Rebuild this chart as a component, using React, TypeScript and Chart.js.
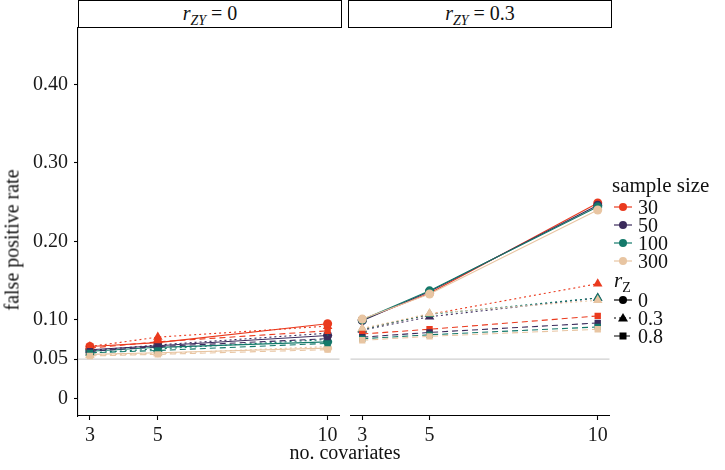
import { useEffect, useRef } from "react";
import { Chart, registerables } from "chart.js";

Chart.register(...registerables);

const covariates = [3, 5, 10];
const sampleSizes = ["30", "50", "100", "300"];
const rzLevels = ["0", "0.3", "0.8"];
const yTicks = [0, 0.05, 0.1, 0.2, 0.3, 0.4];
const refLine = 0.05;

// false positive rate, rows = sample size (30, 50, 100, 300), cols = covariates
const zy0_rz0 = [
  [0.066, 0.071, 0.095],
  [0.062, 0.067, 0.08],
  [0.06, 0.065, 0.072],
  [0.056, 0.058, 0.064],
];
const zy0_rz03 = [
  [0.066, 0.078, 0.092],
  [0.061, 0.068, 0.083],
  [0.058, 0.063, 0.075],
  [0.055, 0.057, 0.066],
];
const zy0_rz08 = [
  [0.064, 0.072, 0.086],
  [0.06, 0.066, 0.076],
  [0.058, 0.061, 0.07],
  [0.054, 0.056, 0.062],
];
const zy3_rz0 = [
  [0.1, 0.134, 0.249],
  [0.099, 0.136, 0.246],
  [0.1, 0.137, 0.244],
  [0.101, 0.133, 0.24],
];
const zy3_rz03 = [
  [0.088, 0.107, 0.146],
  [0.087, 0.104, 0.128],
  [0.088, 0.107, 0.128],
  [0.089, 0.108, 0.125],
];
const zy3_rz08 = [
  [0.082, 0.088, 0.105],
  [0.078, 0.084, 0.096],
  [0.076, 0.081, 0.091],
  [0.074, 0.079, 0.088],
];

const sizeColors = ["#EA3A1E", "#3B2B5C", "#14796A", "#E8C5A2"];
const rzShapes = ["circle", "triangle", "rect"];
const rzRadius = [4.5, 5.5, 4.5];
const rzDashes = [[], [2, 3], [6, 4]];

const FONT = '"Liberation Serif", "DejaVu Serif", serif';

const refLinePlugin = {
  id: "refLine",
  beforeDatasetsDraw(chart: any) {
    const { ctx, chartArea, scales } = chart;
    const y = scales.y.getPixelForValue(refLine);
    ctx.save();
    ctx.strokeStyle = "#CFCFCF";
    ctx.lineWidth = 1.2;
    ctx.beginPath();
    ctx.moveTo(chartArea.left, y);
    ctx.lineTo(chartArea.right, y);
    ctx.stroke();
    ctx.restore();
  },
};

function buildDatasets(groups: number[][][]) {
  const out: any[] = [];
  let idx = 0;
  groups.forEach((grp, i) => {
    grp.forEach((vals, j) => {
      out.push({
        data: covariates.map((x, k) => ({ x, y: vals[k] })),
        borderColor: sizeColors[j],
        backgroundColor: sizeColors[j],
        borderWidth: 1.1,
        borderDash: rzDashes[i],
        pointStyle: rzShapes[i],
        pointRadius: rzRadius[i],
        pointBorderWidth: 0,
        tension: 0,
        order: -idx,
      });
      idx++;
    });
  });
  return out;
}

type PanelProps = {
  groups: number[][][];
  left: number;
  width: number;
  showY: boolean;
  padLeft: number;
  padRight: number;
};

const CANVAS_TOP = 22;
const CANVAS_H = 448;

const Panel = ({ groups, left, width, showY, padLeft, padRight }: PanelProps) => {
  const ref = useRef<HTMLCanvasElement>(null);

  useEffect(() => {
    const ctx = ref.current?.getContext("2d");
    if (!ctx) return;
    const chart = new Chart(ctx, {
      type: "line",
      data: { datasets: buildDatasets(groups) },
      plugins: [refLinePlugin],
      options: {
        animation: false,
        responsive: false,
        maintainAspectRatio: false,
        layout: { padding: { left: padLeft, right: padRight, top: 0, bottom: 0 } },
        plugins: { legend: { display: false }, tooltip: { enabled: false } },
        scales: {
          x: {
            type: "linear",
            min: 2.65,
            max: 10.35,
            afterBuildTicks: (axis: any) => {
              axis.ticks = covariates.map((v) => ({ value: v }));
            },
            afterFit: (axis: any) => {
              axis.height = 54;
              axis.paddingLeft = 0;
              axis.paddingRight = 0;
            },
            border: { display: true, color: "#000", width: 1.1 },
            grid: { drawOnChartArea: false, drawTicks: true, tickLength: 4, tickColor: "#000", tickWidth: 1.1 },
            ticks: {
              autoSkip: false,
              maxRotation: 0,
              padding: 4,
              color: "#1a1a1a",
              font: { family: FONT, size: 20 },
              callback: (v: any) => String(v),
            },
          },
          y: {
            display: showY,
            min: -0.0225,
            max: 0.4725,
            afterBuildTicks: (axis: any) => {
              axis.ticks = yTicks.map((v) => ({ value: v }));
            },
            afterFit: (axis: any) => {
              if (showY) axis.width = 78;
              axis.paddingTop = 0;
              axis.paddingBottom = 0;
            },
            border: { display: true, color: "#000", width: 1.1 },
            grid: { drawOnChartArea: false, drawTicks: true, tickLength: 4, tickColor: "#000", tickWidth: 1.1 },
            ticks: {
              padding: 6,
              color: "#1a1a1a",
              font: { family: FONT, size: 20 },
              callback: (v: any) => (v === 0 ? "0" : Number(v).toFixed(2)),
            },
          },
        },
      },
    });
    return () => chart.destroy();
  }, []);

  return (
    <canvas
      ref={ref}
      width={width}
      height={CANVAS_H}
      style={{ position: "absolute", left, top: CANVAS_TOP, width, height: CANVAS_H }}
    />
  );
};

const Strip = ({ left, width, value }: { left: number; width: number; value: string }) => (
  <div
    style={{
      position: "absolute",
      left,
      top: 0,
      width: width - 2,
      height: 26,
      border: "1px solid #000",
      textAlign: "center",
      fontSize: 20,
      lineHeight: "24px",
      color: "#111",
    }}
  >
    <i>r</i>
    <i style={{ fontSize: 14, position: "relative", top: 5 }}>ZY</i>
    <span> = {value}</span>
  </div>
);

const KeySym = ({ color, shape, dash }: { color: string; shape: string; dash: number[] }) => (
  <svg width={20} height={18} style={{ position: "absolute", left: 0, top: 0 }}>
    <line x1={1} y1={9} x2={19} y2={9} stroke={color} strokeWidth={1.2} strokeDasharray={dash.join(" ")} />
    {shape === "circle" && <circle cx={10} cy={9} r={4} fill={color} />}
    {shape === "triangle" && <polygon points="10,4 15,12.5 5,12.5" fill={color} />}
    {shape === "rect" && <rect x={6.5} y={5.5} width={7} height={7} fill={color} />}
  </svg>
);

export default function App() {
  return (
    <div
      style={{
        position: "fixed",
        left: 0,
        top: 0,
        width: 725,
        height: 470,
        overflow: "hidden",
        background: "#fff",
        fontFamily: FONT,
        color: "#111",
      }}
    >
      <Strip left={78} width={264} value="0" />
      <Strip left={348} width={264} value="0.3" />
      <Panel groups={[zy0_rz0, zy0_rz03, zy0_rz08]} left={0} width={345} showY={true} padLeft={0} padRight={4} />
      <Panel groups={[zy3_rz0, zy3_rz03, zy3_rz08]} left={345} width={270} showY={false} padLeft={3} padRight={3} />

      <div
        style={{
          position: "absolute",
          left: 12,
          top: 240,
          transform: "translate(-50%, -50%) rotate(-90deg)",
          fontSize: 20,
          whiteSpace: "nowrap",
        }}
      >
        false positive rate
      </div>
      <div
        style={{
          position: "absolute",
          left: 345,
          top: 452,
          transform: "translate(-50%, -50%)",
          fontSize: 20,
          whiteSpace: "nowrap",
        }}
      >
        no. covariates
      </div>

      <div style={{ position: "absolute", left: 612, top: 173, fontSize: 21, lineHeight: "24px" }}>sample size</div>
      {sampleSizes.map((s, j) => (
        <div key={s} style={{ position: "absolute", left: 613, top: 198 + j * 18, height: 18, width: 110 }}>
          <KeySym color={sizeColors[j]} shape="circle" dash={[]} />
          <span style={{ position: "absolute", left: 25, top: -3, fontSize: 20, lineHeight: "24px" }}>{s}</span>
        </div>
      ))}

      <div style={{ position: "absolute", left: 614, top: 268, fontSize: 21, lineHeight: "24px" }}>
        <i>r</i>
        <span style={{ fontSize: 14, position: "relative", top: 5 }}>Z</span>
      </div>
      {rzLevels.map((s, i) => (
        <div key={s} style={{ position: "absolute", left: 613, top: 291 + i * 18, height: 18, width: 110 }}>
          <KeySym color="#000" shape={rzShapes[i]} dash={rzDashes[i]} />
          <span style={{ position: "absolute", left: 25, top: -3, fontSize: 20, lineHeight: "24px" }}>{s}</span>
        </div>
      ))}
    </div>
  );
}
